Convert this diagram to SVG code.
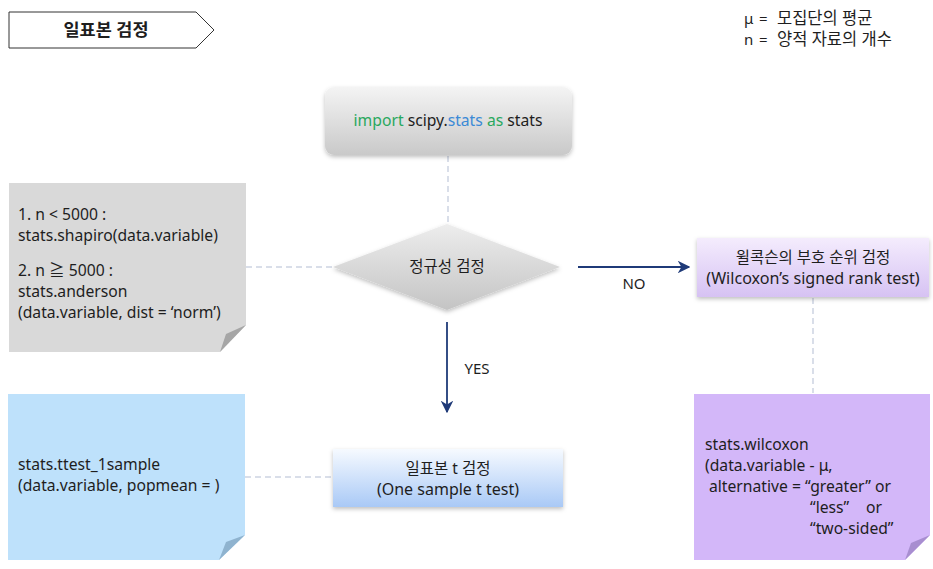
<svg xmlns="http://www.w3.org/2000/svg" width="933" height="569" viewBox="0 0 933 569">
<style>
text{font-family:"Noto Sans","Noto Sans CJK KR",sans-serif;fill:#1e1e1e;font-size:15.7px}
.c{text-anchor:middle}
.k{font-size:15.5px}
.dash{stroke:#cdd3e2;stroke-width:1.5;stroke-dasharray:6,4;fill:none}
.arr{stroke:#1f3a78;stroke-width:1.8;fill:none;marker-end:url(#ah)}
</style>
<defs>
<marker id="ah" viewBox="0 0 10 10" refX="9" refY="5" markerWidth="7" markerHeight="7" orient="auto"><path d="M0,0 L10,5 L0,10 L3,5 z" fill="#1f3a78"/></marker>
<linearGradient id="gGray" x1="0" y1="0" x2="0" y2="1"><stop offset="0" stop-color="#f4f4f4"/><stop offset="1" stop-color="#c9c9c9"/></linearGradient>
<linearGradient id="gDia" x1="0" y1="0" x2="0" y2="1"><stop offset="0" stop-color="#ededed"/><stop offset="1" stop-color="#c4c4c4"/></linearGradient>
<linearGradient id="gPur" x1="0" y1="0" x2="0" y2="1"><stop offset="0" stop-color="#f4ecfd"/><stop offset="1" stop-color="#d6c2f3"/></linearGradient>
<linearGradient id="gBlue" x1="0" y1="0" x2="0" y2="1"><stop offset="0" stop-color="#f6faff"/><stop offset="1" stop-color="#a9c9f6"/></linearGradient>
<filter id="sh" x="-10%" y="-10%" width="120%" height="130%"><feDropShadow dx="0" dy="2" stdDeviation="2" flood-color="#000" flood-opacity="0.25"/></filter>
</defs>

<g id="title">
<polygon points="9,12 196,12 214,30 196,48 9,48" fill="#fff" stroke="#333" stroke-width="1"/>
<text x="106" y="36" class="c" style="font-size:17.5px;font-weight:bold">일표본 검정</text>
</g>

<g id="legend">
<text x="744" y="24" style="font-size:15px"><tspan>μ</tspan><tspan x="759">=</tspan><tspan x="777" style="font-size:16.5px">모집단의 평균</tspan></text>
<text x="744" y="45" style="font-size:15px"><tspan>n</tspan><tspan x="759">=</tspan><tspan x="777" style="font-size:16.5px">양적 자료의 개수</tspan></text>
</g>

<g id="connectors">
<line class="dash" x1="448" y1="156" x2="448" y2="224"/>
<line class="dash" x1="246" y1="267" x2="333" y2="267"/>
<line class="dash" x1="813" y1="298" x2="813" y2="393"/>
<line class="dash" x1="245" y1="477" x2="333" y2="477"/>
<line class="arr" x1="578" y1="267" x2="689" y2="267"/>
<text x="634" y="289" class="c" style="font-size:15px">NO</text>
<line class="arr" x1="447" y1="322" x2="447" y2="412"/>
<text x="477" y="374" class="c" style="font-size:15px">YES</text>
</g>

<g id="import">
<rect x="325" y="87" width="247" height="68" rx="9" fill="url(#gGray)" filter="url(#sh)"/>
<text x="448" y="126" class="c" style="font-size:15.7px"><tspan style="fill:#2aa85e">import</tspan> scipy.<tspan style="fill:#3b8ad6">stats</tspan> <tspan style="fill:#2aa85e">as</tspan> stats</text>
</g>

<g id="normality">
<polygon points="333,267 447,224 560,267 447,310" fill="url(#gDia)" filter="url(#sh)"/>
<text x="447" y="272" class="c k">정규성 검정</text>
</g>

<g id="normNote">
<polygon points="9,183 246,183 246,325 220,352 9,352" fill="#d9d9d9"/>
<polygon points="246,325 220,352 226,334" fill="#a6a6a6"/>
<text x="18" y="220">1. n &lt; 5000 :</text>
<text x="18" y="241">stats.shapiro(data.variable)</text>
<text x="18" y="276">2. n ≧ 5000 :</text>
<text x="18" y="297">stats.anderson</text>
<text x="18" y="318">(data.variable, dist = ‘norm’)</text>
</g>

<g id="wilcoxon">
<rect x="697" y="238" width="232" height="59" fill="url(#gPur)" filter="url(#sh)"/>
<text x="813" y="263" class="c k">윌콕슨의 부호 순위 검정</text>
<text x="813" y="284" class="c" style="font-size:16.1px">(Wilcoxon’s signed rank test)</text>
</g>

<g id="wilcoxNote">
<polygon points="694,394 930,394 930,535 905,560 694,560" fill="#d3b7f9"/>
<polygon points="930,535 905,560 911,543" fill="#a88ed0"/>
<text x="705" y="450">stats.wilcoxon</text>
<text x="705" y="471">(data.variable - μ,</text>
<text x="709" y="492">alternative = “greater” or</text>
<text x="810" y="513">“less”</text>
<text x="866" y="513">or</text>
<text x="810" y="534">“two-sided”</text>
</g>

<g id="ttest">
<rect x="333" y="449" width="230" height="58" fill="url(#gBlue)" filter="url(#sh)"/>
<text x="448" y="474" class="c k">일표본 t 검정</text>
<text x="448" y="495" class="c" style="font-size:16px">(One sample t test)</text>
</g>

<g id="ttestNote">
<polygon points="8,394 245,394 245,535 219,560 8,560" fill="#bee1fb"/>
<polygon points="245,535 219,560 226,542" fill="#8fb3cf"/>
<text x="18" y="470">stats.ttest_1sample</text>
<text x="18" y="491">(data.variable, popmean = )</text>
</g>
</svg>
